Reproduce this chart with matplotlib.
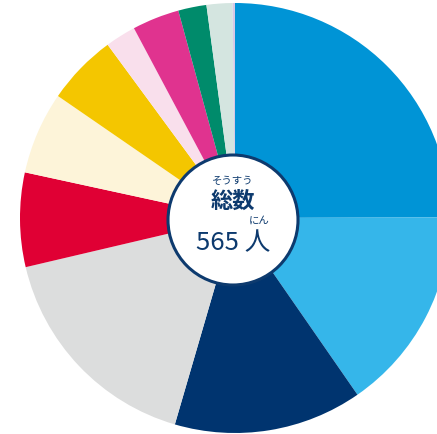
import matplotlib
matplotlib.use("Agg")
import matplotlib.pyplot as plt
from matplotlib.patches import Circle

plt.rcParams['font.family'] = ['Noto Sans CJK JP', 'DejaVu Sans']

# counts per group, clockwise from 12 o'clock
counts = [141, 87, 80, 95, 40, 35, 30, 13, 20, 12, 11, 1]
colors = ['#0094d6', '#35b6ea', '#00346f', '#dcdddd', '#e00034', '#fdf4d9',
          '#f4c600', '#f9dfec', '#e0338f', '#008b6b', '#d4e5e0', '#d6c9e6']
total_label = '565'
navy = '#0d3a6e'

fig = plt.figure(figsize=(4.37, 4.34), dpi=100)
ax = fig.add_axes([0, 0, 1, 1])

cx, cy, r = 235, 434 - 218, 215
ax.pie(counts, colors=colors, startangle=90, counterclock=False,
       center=(cx, cy), radius=r, wedgeprops=dict(linewidth=0))

ax.add_patch(Circle((cx - 2, cy - 2), 65, facecolor='white',
                    edgecolor=navy, linewidth=2.2, zorder=5))

ax.text(cx - 2, cy + 37, 'そうすう', ha='center', va='center', fontsize=7.5,
        color=navy, zorder=6)
ax.text(cx - 2, cy + 17, '総数', ha='center', va='center', fontsize=16,
        fontweight='bold', color=navy, zorder=6)
ax.text(cx + 24, cy - 3, 'にん', ha='center', va='center', fontsize=7.5,
        color=navy, zorder=6)
ax.text(cx - 2, cy - 25, total_label + ' 人', ha='center', va='center',
        fontsize=18.5, color=navy, zorder=6)

ax.set_xlim(0, 437)
ax.set_ylim(0, 434)
ax.set_aspect('auto')
ax.axis('off')

fig.savefig('out.png', dpi=100)
